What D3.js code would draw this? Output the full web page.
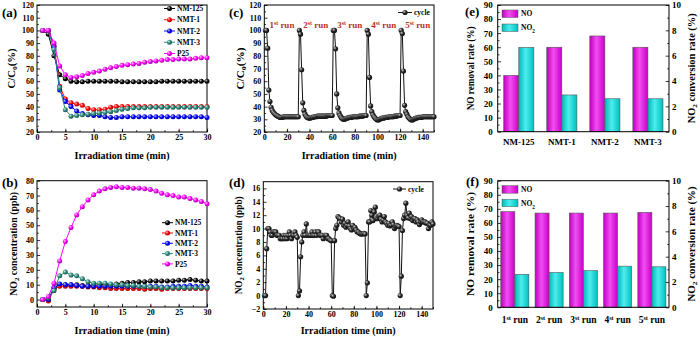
<!DOCTYPE html>
<html><head><meta charset="utf-8">
<script src="https://cdn.jsdelivr.net/npm/d3@7"></script>
<style>
body{margin:0;background:#fff}
svg{display:block}
text{font-family:"Liberation Serif","Times New Roman",serif;font-weight:bold}
</style>
</head><body>
<svg id="chart" width="700" height="337"></svg>
<script>
// ---------------- DATA ----------------
const timeAB = [1,2,3,4,5,6,7,8,9,10,11,12,13,14,15,16,17,18,19,20,21,22,23,24,25,26,27,28,29,30];
const sampleNames = ["NM-125","NMT-1","NMT-2","NMT-3","P25"];

// (a) C/C0 (%)
const aNM125 = [100,97,80,65,62,60,59.5,59.5,60,60,60,60,60,60,59.5,59.5,59.5,59.5,59.5,59.5,59.5,60,60,60,60,60,60,60,60,60];
const aNMT1  = [100,100,88,56,46,43,42,41,38.5,37.5,37.5,38,39.5,40,40,40,40,40,40,40,40,40,40,40,40,40,40,40,40,40];
const aNMT2  = [100,100,87,53,44,40,36.5,34.5,33.5,33,33,32,31.5,31.5,32,32,32,32,32,32,32,32,32,32,32,32,32,32,32,31.5];
const aNMT3  = [100,100,85,55,37.5,32.5,33,33.5,34,34.5,35,35.5,36,37,38,38.5,39,39,39,39.5,39.5,39.5,39.5,39.5,39.5,39.5,39.5,39.5,39.5,39.5];
const aP25   = [100,100,90,72,65,63,63.5,64.5,66,67,68,69.5,70.5,71.5,72.5,73,73.5,74,75,75.5,76,76.5,77,77,77.5,77.5,77.5,78,78.5,78.5];

// (b) NO2 concentration (ppb)
const bNM125 = [0,-0.5,8,10,10,10,10,9.5,9.5,9.5,10,10,10,10.5,11,11.5,11.5,12,12,12.5,12.5,12.5,12.5,12.5,13,13,13.5,13,12.5,12.5];
const bNMT1  = [0,-1,7,9,9,9,9,9,8.5,8.5,8,8,7.5,7.5,7.5,7.5,7.5,7.5,7,7.5,7.5,7,7.5,7.5,7.5,7.5,7.5,7.5,7.5,7.5];
const bNMT2  = [0,0,8,10.5,10,10,9.5,9,9,9,9,9,9,9,9,9,9,9,9,9,9,8.5,8.5,9,9,9,9.5,9,9,8.5];
const bNMT3  = [0,1,6,16,18.5,16.5,16,14,12,11,11,11,10.5,10,10,9.5,9.5,9,9,8.5,8.5,8,8,8,8,8,8,8,8,8];
const bP25   = [0,2,11,26,39,48.5,57,62.5,67,70.5,73,74.5,75.5,76,75.5,75.5,75,75,74.5,74,73,71.5,70.5,70,69,69,68,67,66,64.5];

// (c) cycle test C/C0 (%), five runs of 30 min
const cycleTime = d3.range(1, 151);
const cRun1 = [100,100,86,53,44,39.5,37,35.5,34.5,33.5,33,32.5,32,31.5,31.5,31.5,32,32,32,32,32,32,32,32,32,32,32,32,32,32];
const cRun2 = [100,97,69,43,37,34,32.5,31.5,31,31,31,31.5,31.5,32,32,32,32.5,32.5,32.5,32.5,32.5,32.5,32.5,32.5,32.5,33,33,33,33,33];
const cRun3 = [100,100,85.5,50,39,35,33,31.5,30.5,30,30,30.5,31,31,31.5,31.5,31.5,32,32,32,32,32,32,32.5,32.5,32.5,32.5,33,33,33];
const cRun4 = [100,97,63,40.5,36,33.5,32,31,30,29.5,29.5,30,30.5,31,31,31,31.5,31.5,31.5,32,32,32,32,32,32.5,32.5,32.5,33,33,33];
const cRun5 = [100,97.5,68,41,36,34,32,31,30,29.5,29.5,30,30.5,31,31,31.5,31.5,31.5,31.5,32,32,32,32,32,32,32,32,32,32,32];
const runStarts = [1,31,61,91,121];
const runNames = ["1st run","2st run","3st run","4st run","5st run"];

// (d) cycle test NO2 (ppb)
const dRun1 = [0,0,7,10,10,9.5,9,9,9.5,9.5,9.5,9,9,9,8.5,8.5,8.5,9,8.5,9,8.5,9,9.5,9,8.5,9,9,9.5,9,8.7];
const dRun2 = [0,0.7,5.8,8,9,9.5,9,10.7,9,9,9,9,9.5,9,9,9.5,9,9.5,9.5,9,9,9,8.5,9,9,9,8.5,8.5,8.3,8.2];
const dRun3 = [0,-0.1,8.2,10,10.5,11.8,11.6,11.5,11,11.4,10.5,10.8,10.2,10.5,11,10.4,10,9.8,10.5,10,10.2,9.8,9.5,9.5,9.3,9.2,9.2,9.2,9.3,9.2];
const dRun4 = [0,1.9,11,11,12.7,12,11.2,12.5,13.2,11.5,11.5,11.8,12,11.4,11,11.3,11.8,11,10.8,10.5,10.8,10.4,10.5,11,10.6,10,10.3,10.5,10.4,10.3];
const dRun5 = [0,2.9,9.7,11.5,12,13.8,12,11.6,12.3,11.5,11.8,11.2,11.5,11.5,11,11.3,11,10.6,11,11.3,11,11,11,10.8,10.8,10,10.5,10.5,11,10.7];

// (e) removal / conversion by sample
const eCats = ["NM-125","NMT-1","NMT-2","NMT-3"];
const eNO   = [40,60,68,60];
const eNO2  = [6.65,2.9,2.6,2.6];
// (f) removal / conversion by run
const fCats = runNames;
const fNO   = [68,67,67,67,67.5];
const fNO2  = [2.6,2.75,2.9,3.25,3.2];

const lineColors = ["#000000","#ff0000","#0000ff","#2a8a7a","#ff00ff"];

// ---------------- DRAWING ----------------
const svg = d3.select("#chart");
const defs = svg.append("defs");
function sphere(id, c){
  const g = defs.append("radialGradient").attr("id",id).attr("cx","35%").attr("cy","35%").attr("r","65%");
  g.append("stop").attr("offset","0%").attr("stop-color", d3.interpolateRgb(c,"#ffffff")(0.75));
  g.append("stop").attr("offset","55%").attr("stop-color", c);
  g.append("stop").attr("offset","100%").attr("stop-color", d3.color(c).darker(1.2));
}
lineColors.forEach((c,i)=>sphere("sp"+i,c));
sphere("spk","#222222");
function barGrad(id, c){
  const g = defs.append("linearGradient").attr("id",id).attr("x1","0%").attr("x2","100%");
  g.append("stop").attr("offset","0%").attr("stop-color", d3.color(c).darker(0.6));
  g.append("stop").attr("offset","45%").attr("stop-color", d3.interpolateRgb(c,"#ffffff")(0.3));
  g.append("stop").attr("offset","100%").attr("stop-color", d3.color(c).darker(0.5));
}
barGrad("gNO","#ee00ee");
barGrad("gNO2","#00e5e5");

function styleAxis(sel, fs){
  sel.attr("font-family",null).attr("font-size",null);
  sel.selectAll("text").attr("font-size",fs).attr("fill","#000");
  sel.selectAll("line").attr("stroke","#000").attr("stroke-width",0.8);
  sel.select(".domain").remove();
}

function subText(g, parts, attrs){
  const t = g.append("text");
  Object.entries(attrs).forEach(([k,v])=>t.attr(k,v));
  parts.forEach(p=>{
    const ts = t.append("tspan").text(p.t);
    if(p.sub){ ts.attr("baseline-shift","sub").attr("font-size","70%"); }
    if(p.sup){ ts.attr("baseline-shift","super").attr("font-size","65%"); }
  });
  return t;
}

function linePanel(o){
  const g = svg.append("g");
  const x = d3.scaleLinear().domain(o.xd).range([o.l,o.r]);
  const y = d3.scaleLinear().domain(o.yd).range([o.b,o.t]);
  g.append("g").attr("transform",`translate(0,${o.b})`)
    .call(d3.axisBottom(x).tickValues(o.xMinor).tickSize(-1.8).tickFormat(""))
    .call(s=>styleAxis(s,8));
  g.append("g").attr("transform",`translate(0,${o.b})`)
    .call(d3.axisBottom(x).tickValues(o.xTicks).tickSize(-3.2).tickPadding(2.5))
    .call(s=>styleAxis(s,8));
  g.append("g").attr("transform",`translate(${o.l},0)`)
    .call(d3.axisLeft(y).tickValues(o.yMinor).tickSize(-1.8).tickFormat(""))
    .call(s=>styleAxis(s,8));
  g.append("g").attr("transform",`translate(${o.l},0)`)
    .call(d3.axisLeft(y).tickValues(o.yTicks).tickSize(-3.2).tickPadding(3))
    .call(s=>styleAxis(s,8));
  g.append("rect").attr("x",o.l).attr("y",o.t).attr("width",o.r-o.l).attr("height",o.b-o.t)
    .attr("fill","none").attr("stroke","#000").attr("stroke-width",1);
  const line = d3.line().x(d=>x(d[0])).y(d=>y(d[1]));
  o.series.forEach(s=>{
    const pts = s.x.map((t,i)=>[t,s.v[i]]);
    g.append("path").datum(pts).attr("d",line).attr("fill","none").attr("stroke",s.color).attr("stroke-width",1);
    g.selectAll(null).data(pts).join("circle").attr("cx",d=>x(d[0])).attr("cy",d=>y(d[1]))
      .attr("r",o.mr).attr("fill",`url(#${s.grad})`);
  });
  // legend
  o.series.forEach((s,i)=>{
    const ly = o.leg.y + i*o.leg.dy;
    g.append("line").attr("x1",o.leg.x).attr("x2",o.leg.x+o.leg.w).attr("y1",ly).attr("y2",ly)
      .attr("stroke",s.color).attr("stroke-width",1);
    g.append("circle").attr("cx",o.leg.x+o.leg.w/2).attr("cy",ly).attr("r",o.mr).attr("fill",`url(#${s.grad})`);
    g.append("text").attr("x",o.leg.x+o.leg.w+2).attr("y",ly).attr("dy","0.35em")
      .attr("font-size",7.5).text(s.name);
  });
  // titles
  g.append("text").attr("x",(o.l+o.r)/2).attr("y",o.xtY).attr("text-anchor","middle")
    .attr("font-size",10).text("Irradiation time (min)");
  subText(g, o.ytParts, {transform:`translate(${o.ytX},${(o.t+o.b)/2}) rotate(-90)`,
    "text-anchor":"middle","dominant-baseline":"central","font-size":10,
    textLength:o.ytLen,lengthAdjust:"spacingAndGlyphs"});
  g.append("text").attr("x",o.lab[0]).attr("y",o.lab[1]).attr("font-size",13).text(o.label);
  return {g,x,y};
}

function concat(runs){ return runs.reduce((a,r)=>a.concat(r),[]); }

// (a)
linePanel({l:37,r:207,t:5,b:132,xd:[0,30],yd:[20,120],
  xTicks:[0,5,10,15,20,25,30],xMinor:d3.range(0,30.1,2.5),
  yTicks:d3.range(20,121,10),yMinor:d3.range(25,120,10),mr:2.5,
  series:[aNM125,aNMT1,aNMT2,aNMT3,aP25].map((v,i)=>({x:timeAB,v,color:lineColors[i],grad:"sp"+i,name:sampleNames[i]})),
  leg:{x:164,y:8.5,dy:11.25,w:11},
  xtY:158.5,ytX:11,ytLen:40,ytParts:[{t:"C/C"},{t:"0",sub:true},{t:"(%)"}],
  label:"(a)",lab:[2,17]});

// (b)
linePanel({l:37,r:207,t:180.7,b:307,xd:[0,30],yd:[-5,80],
  xTicks:[0,5,10,15,20,25,30],xMinor:d3.range(0,30.1,2.5),
  yTicks:d3.range(0,81,10),yMinor:d3.range(5,80,10),mr:2.5,
  series:[bNM125,bNMT1,bNMT2,bNMT3,bP25].map((v,i)=>({x:timeAB,v,color:lineColors[i],grad:"sp"+i,name:sampleNames[i]})),
  leg:{x:162,y:222.7,dy:10.3,w:11},
  xtY:333.5,ytX:13,ytLen:104,ytParts:[{t:"NO"},{t:"2",sub:true},{t:" concentration (ppb)"}],
  label:"(b)",lab:[2,187]});

// (c)
const pc = linePanel({l:264.3,r:434,t:5,b:132,xd:[0,150],yd:[20,120],
  xTicks:d3.range(0,141,20),xMinor:d3.range(0,150.1,10),
  yTicks:d3.range(20,121,10),yMinor:d3.range(25,120,10),mr:2.6,
  series:[{x:cycleTime,v:concat([cRun1,cRun2,cRun3,cRun4,cRun5]),color:"#111",grad:"spk",name:"cycle"}],
  leg:{x:398,y:12.5,dy:0,w:14},
  xtY:158.5,ytX:240,ytLen:42,ytParts:[{t:"C/C"},{t:"0",sub:true},{t:"(%)"}],
  label:"(c)",lab:[229,17]});
runNames.forEach((n,i)=>{
  subText(pc.g,[{t:n.slice(0,1)},{t:n.slice(1,3),sup:true},{t:n.slice(3)}],
    {x:pc.x(runStarts[i]+3.5),y:pc.y(100)-2.5,"font-size":9,fill:"#b8312a"});
});

// (d)
linePanel({l:263.3,r:433,t:181.7,b:309,xd:[0,150],yd:[-2,17],
  xTicks:d3.range(0,141,20),xMinor:d3.range(0,150.1,10),
  yTicks:d3.range(-2,17,2),yMinor:d3.range(-1,17,2),mr:2.6,
  series:[{x:cycleTime,v:concat([dRun1,dRun2,dRun3,dRun4,dRun5]),color:"#111",grad:"spk",name:"cycle"}],
  leg:{x:393,y:189,dy:0,w:13},
  xtY:333.5,ytX:238,ytLen:98,ytParts:[{t:"NO"},{t:"2",sub:true},{t:" concentration (ppb)"}],
  label:"(d)",lab:[229,187]});

// bar panels
function barPanel(o){
  const g = svg.append("g");
  const x = d3.scaleBand().domain(o.cats).range([o.l,o.r]).paddingInner(o.pi).paddingOuter(o.po);
  const yL = d3.scaleLinear().domain([0,90]).range([o.b,o.t]);
  const yR = d3.scaleLinear().domain([0,10]).range([o.b,o.t]);
  const bw = x.bandwidth()/2;
  g.selectAll(null).data(o.no).join("rect")
    .attr("x",(d,i)=>x(o.cats[i])).attr("y",d=>yL(d)).attr("width",bw).attr("height",d=>o.b-yL(d))
    .attr("fill","url(#gNO)").attr("stroke","#555").attr("stroke-width",0.6);
  g.selectAll(null).data(o.no2).join("rect")
    .attr("x",(d,i)=>x(o.cats[i])+bw).attr("y",d=>yR(d)).attr("width",bw).attr("height",d=>o.b-yR(d))
    .attr("fill","url(#gNO2)").attr("stroke","#555").attr("stroke-width",0.6);
  g.append("g").attr("transform",`translate(${o.l},0)`)
    .call(d3.axisLeft(yL).tickValues(d3.range(5,90,10)).tickSize(-1.8).tickFormat("")).call(s=>styleAxis(s,9));
  g.append("g").attr("transform",`translate(${o.l},0)`)
    .call(d3.axisLeft(yL).tickValues(d3.range(0,91,10)).tickSize(-3.2).tickPadding(5)).call(s=>styleAxis(s,9));
  g.append("g").attr("transform",`translate(${o.r},0)`)
    .call(d3.axisRight(yR).tickValues(d3.range(1,10,2)).tickSize(-1.8).tickFormat("")).call(s=>styleAxis(s,9));
  g.append("g").attr("transform",`translate(${o.r},0)`)
    .call(d3.axisRight(yR).tickValues(d3.range(0,11,2)).tickSize(-3.2).tickPadding(3)).call(s=>styleAxis(s,9));
  g.append("rect").attr("x",o.l).attr("y",o.t).attr("width",o.r-o.l).attr("height",o.b-o.t)
    .attr("fill","none").attr("stroke","#000").attr("stroke-width",1);
  o.cats.forEach(c=>{
    const cx = x(c)+x.bandwidth()/2;
    if(o.sup){
      subText(g,[{t:c.slice(0,1)},{t:c.slice(1,3),sup:true},{t:c.slice(3)}],
        {x:cx,y:o.b+o.tly,"text-anchor":"middle","font-size":9.5});
    } else {
      g.append("text").attr("x",cx).attr("y",o.b+o.tly).attr("text-anchor","middle").attr("font-size",9).text(c);
    }
  });
  // legend
  [["gNO",[{t:"NO"}]],["gNO2",[{t:"NO"},{t:"2",sub:true}]]].forEach((L,i)=>{
    const ly = o.leg.y + i*o.leg.dy;
    g.append("rect").attr("x",o.leg.x).attr("y",ly).attr("width",16).attr("height",7.5)
      .attr("fill",`url(#${L[0]})`).attr("stroke","#555").attr("stroke-width",0.5);
    subText(g,L[1],{x:o.leg.x+19,y:ly+3.75,dy:"0.35em","font-size":7.5});
  });
  subText(g,[{t:"NO removal rate (%)"}],{transform:`translate(${o.l-28},${(o.t+o.b)/2}) rotate(-90)`,
    "text-anchor":"middle","dominant-baseline":"central","font-size":11,textLength:o.lLen,lengthAdjust:"spacingAndGlyphs"});
  subText(g,[{t:"NO"},{t:"2",sub:true},{t:" conversion rate (%)"}],{transform:`translate(${o.r+21.5},${(o.t+o.b)/2}) rotate(-90)`,
    "text-anchor":"middle","dominant-baseline":"central","font-size":10,textLength:o.rLen,lengthAdjust:"spacingAndGlyphs"});
  g.append("text").attr("x",o.lab[0]).attr("y",o.lab[1]).attr("font-size",13).text(o.label);
}

barPanel({l:497.7,r:669,t:5,b:131.7,cats:eCats,no:eNO,no2:eNO2,pi:0.3,po:0.14,
  tly:13.5,sup:false,leg:{x:502,y:10,dy:14},lLen:84,rLen:110,label:"(e)",lab:[465,16]});
barPanel({l:497.7,r:669,t:180.7,b:307.3,cats:fCats,no:fNO,no2:fNO2,pi:0.18,po:0.09,
  tly:16,sup:true,leg:{x:502,y:185.7,dy:13.5},lLen:104,rLen:115,label:"(f)",lab:[466,186]});
</script>
</body></html>
